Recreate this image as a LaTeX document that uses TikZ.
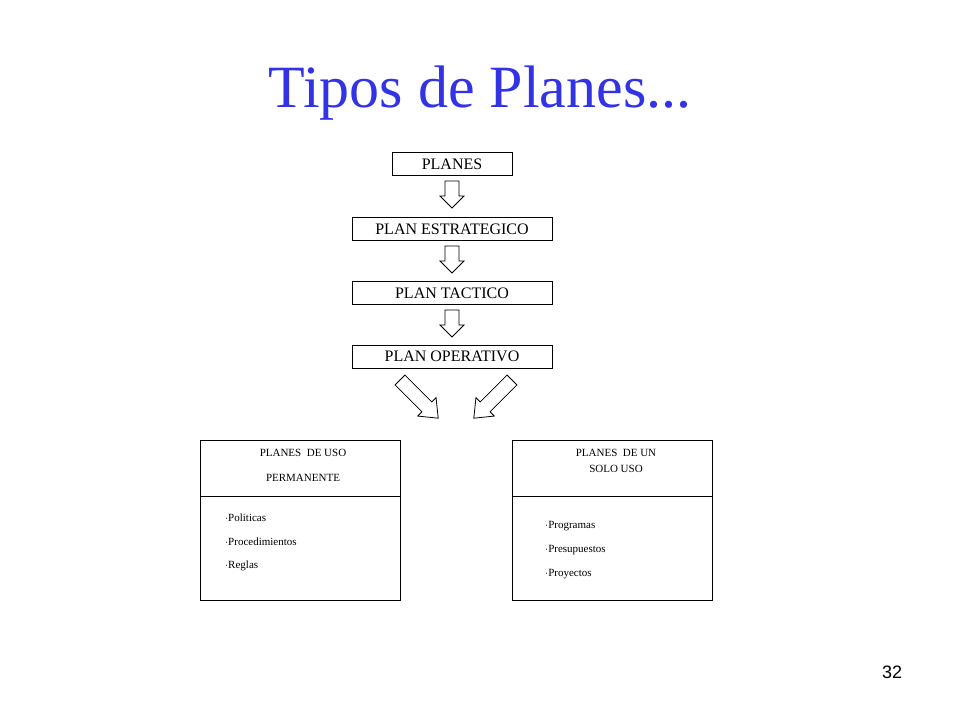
\documentclass[tikz,border=0pt]{standalone}
\usepackage{fontspec}
\setmainfont{Liberation Serif}
\newfontfamily\numfont{Liberation Sans}
\definecolor{titleblue}{RGB}{51,51,230}
\begin{document}
\begin{tikzpicture}[x=1pt,y=-1pt,
  plan/.style={draw,line width=0.8pt,minimum height=23pt,inner sep=0pt,font=\fontsize{16}{18}\selectfont},
  small/.style={font=\fontsize{11}{13}\selectfont,inner sep=0pt},
  blk/.style={draw,line width=0.8pt,fill=white,line join=miter}]
\useasboundingbox (0,0) rectangle (960,720);
\node[text=titleblue,font=\fontsize{60}{66}\selectfont] (title) at (480,93) {Tipos de Planes...};
\node[plan,minimum width=120pt] (p0) at (452,164) {PLANES};
\node[plan,minimum width=200pt] (p1) at (452,229) {PLAN ESTRATEGICO};
\node[plan,minimum width=200pt] (p2) at (452,293) {PLAN TACTICO};
\node[plan,minimum width=200pt] (p3) at (452,356.5) {PLAN OPERATIVO};
\foreach \y in {181,246,310}{
  \draw[blk] (452,\y) ++(-7,0) -- ++(14,0) -- ++(0,15) -- ++(5,0) -- ++(-12,12) -- ++(-12,-12) -- ++(5,0) -- cycle;}
\begin{scope}[shift={(400,380)},rotate=45]
\draw[blk] (-7,0)--(7,0)--(7,38)--(13,38)--(0,54)--(-13,38)--(-7,38)--cycle;
\end{scope}
\begin{scope}[shift={(512,380)},rotate=-45]
\draw[blk] (-7,0)--(7,0)--(7,38)--(13,38)--(0,54)--(-13,38)--(-7,38)--cycle;
\end{scope}
\draw[line width=0.8pt] (200,440) rectangle (400,600) (200,496) -- (400,496);
\draw[line width=0.8pt] (512,440) rectangle (712,600) (512,496) -- (712,496);
\node[small] (l1) at (303,453) {PLANES\ \ DE USO};
\node[small] (l2) at (303,478) {PERMANENTE};
\node[small,anchor=west] (l3) at (225,518) {$\cdot$Politicas};
\node[small,anchor=west] (l4) at (225,542) {$\cdot$Procedimientos};
\node[small,anchor=west] (l5) at (225,566) {$\cdot$Reglas};
\node[small] (r1) at (616,453) {PLANES\ \ DE UN};
\node[small] (r2) at (616,469) {SOLO USO};
\node[small,anchor=west] (r3) at (545,526) {$\cdot$Programas};
\node[small,anchor=west] (r4) at (545,550) {$\cdot$Presupuestos};
\node[small,anchor=west] (r5) at (545,574) {$\cdot$Proyectos};
\node[font=\numfont\fontsize{18}{20}\selectfont] (num) at (892,672) {32};
\end{tikzpicture}
\end{document}
